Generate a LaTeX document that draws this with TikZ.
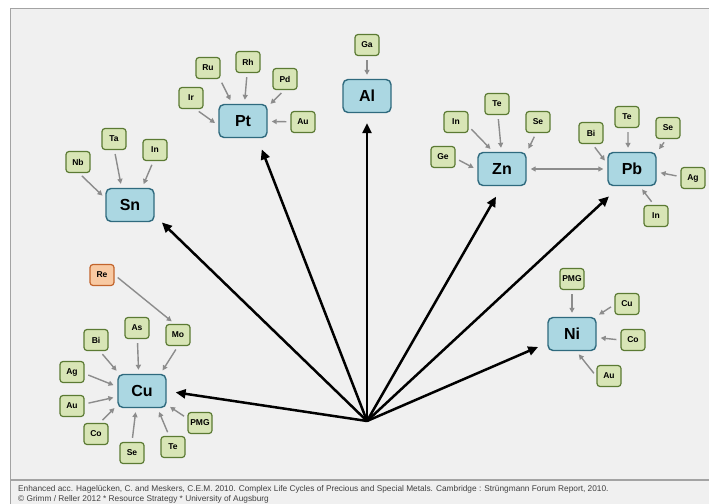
\documentclass[tikz,border=0pt]{standalone}
\usepackage{fontspec}
\setmainfont{Liberation Sans}
\usetikzlibrary{arrows.meta}
\definecolor{metalfill}{HTML}{ABD7E2}
\definecolor{metaldraw}{HTML}{2F6A7E}
\definecolor{elemfill}{HTML}{D8E5B6}
\definecolor{elemdraw}{HTML}{5B7A33}
\definecolor{rarefill}{HTML}{F8C9A2}
\definecolor{raredraw}{HTML}{C2642C}
\definecolor{feedgray}{HTML}{8C8C8C}
\definecolor{bggray}{HTML}{F0F0F0}
\definecolor{framegray}{HTML}{A3A3A3}

\begin{document}
\begin{tikzpicture}[x=1pt,y=-1pt,
    mnode/.style={draw=metaldraw, fill=metalfill, rounded corners=5pt, line width=1.4pt, minimum width=48pt, minimum height=33pt, inner sep=2pt, font=\fontsize{16}{16}\selectfont\bfseries},
    enode/.style={draw=elemdraw, fill=elemfill, rounded corners=3pt, line width=1.2pt, minimum width=24pt, minimum height=21pt, inner sep=1.5pt, font=\fontsize{8.5}{9}\selectfont\bfseries},
    rnode/.style={enode, draw=raredraw, fill=rarefill},
    feed/.style={draw=feedgray, line width=1.4pt, -{Triangle[length=5pt,width=5pt]}, shorten >=4pt, shorten <=4pt},
    feedboth/.style={feed, {Triangle[length=5pt,width=5pt]}-{Triangle[length=5pt,width=5pt]}},
    carrier/.style={draw=black, line width=2.5pt, -{Triangle[length=10pt,width=9pt]}},
    footer/.style={anchor=west, inner sep=0pt, text=black!75, font=\fontsize{8.3}{9}\selectfont}]
    \useasboundingbox (0,0) rectangle (709,503);
    \fill[white] (0,0) rectangle (709,503);
    \draw[framegray, fill=bggray, line width=1.5pt] (10.5,8.5) rectangle (715,510);
    \draw[framegray, line width=1.5pt] (10.5,480) -- (709,480);

    \coordinate (hub) at (367,421);
    \node[mnode] (sn) at (130,205) {Sn};
    \node[mnode] (pt) at (243,121) {Pt};
    \node[mnode] (al) at (367,96) {Al};
    \node[mnode] (zn) at (502,169) {Zn};
    \node[mnode] (pb) at (632,169) {Pb};
    \node[mnode] (ni) at (572,334) {Ni};
    \node[mnode] (cu) at (142,391) {Cu};

    \node[enode] (ptir) at (191,98) {Ir};
    \node[enode] (ptru) at (208,68) {Ru};
    \node[enode] (ptrh) at (248,62) {Rh};
    \node[enode] (ptpd) at (285,79) {Pd};
    \node[enode] (ptau) at (303,122) {Au};
    \node[enode] (snnb) at (78,162) {Nb};
    \node[enode] (snta) at (114,139) {Ta};
    \node[enode] (snin) at (155,150) {In};
    \node[enode] (alga) at (367,45) {Ga};
    \node[enode] (znin) at (456,122) {In};
    \node[enode] (znte) at (497,104) {Te};
    \node[enode] (znse) at (538,122) {Se};
    \node[enode] (znge) at (443,157) {Ge};
    \node[enode] (pbbi) at (591,133) {Bi};
    \node[enode] (pbte) at (627,117) {Te};
    \node[enode] (pbse) at (668,128) {Se};
    \node[enode] (pbag) at (693,178) {Ag};
    \node[enode] (pbin) at (656,216) {In};
    \node[enode] (nipmg) at (572,279) {PMG};
    \node[enode] (nicu) at (627,304) {Cu};
    \node[enode] (nico) at (633,340) {Co};
    \node[enode] (niau) at (609,376) {Au};
    \node[rnode] (cure) at (102,275) {Re};
    \node[enode] (cuas) at (137,328) {As};
    \node[enode] (cumo) at (178,335) {Mo};
    \node[enode] (cubi) at (96,340) {Bi};
    \node[enode] (cuag) at (72,372) {Ag};
    \node[enode] (cuau) at (72,406) {Au};
    \node[enode] (cuco) at (96,434) {Co};
    \node[enode] (cuse) at (132,453) {Se};
    \node[enode] (cute) at (173,447) {Te};
    \node[enode] (cupmg) at (200,423) {PMG};

    \path (ptir.292) edge[feed] (pt.190);
    \path (ptru.317) edge[feed] (pt.122);
    \path (ptrh) edge[feed] (pt.85);
    \path (ptpd.266) edge[feed] (pt.30);
    \path (ptau) edge[feed] (pt);
    \path (snnb.275) edge[feed] (sn.165);
    \path (snta.272) edge[feed] (sn.116);
    \path (snin.262) edge[feed] (sn.55);
    \path (alga) edge[feed] (al);
    \path (znin.341) edge[feed] (zn.117);
    \path (znte.275) edge[feed] (zn.92);
    \path (znse.260) edge[feed] (zn.34);
    \path (znge.354) edge[feed] (zn.182);
    \path (zn) edge[feedboth] (pb);
    \path (pbbi.277) edge[feed] (pb.168);
    \path (pbte.275) edge[feed] (pb.103);
    \path (pbse.262) edge[feed] (pb.34);
    \path (pbag.174) edge[feed] (pb.353);
    \path (pbin.100) edge[feed] (pb.294);
    \path (nipmg) edge[feed] (ni);
    \path (nicu.183) edge[feed] (ni.36);
    \path (nico.west) edge[feed] (ni.352);
    \path (niau.182) edge[feed] (ni.284);
    \path (cure.east) edge[feed] (cumo.106);
    \path (cuas) edge[feed] (cu.101);
    \path (cumo.270) edge[feed] (cu.43);
    \path (cubi.289) edge[feed] (cu.143);
    \path (cuag.353) edge[feed] (cu.170);
    \path (cuau.9) edge[feed] (cu.193);
    \path (cuco.72) edge[feed] (cu.210);
    \path (cuse.90) edge[feed] (cu.251);
    \path (cute.109) edge[feed] (cu.312);
    \path (cupmg.160) edge[feed] (cu.331);

    \path (hub) edge[carrier, shorten >=10pt] (sn.337);
    \path (hub) edge[carrier, shorten >=12pt] (pt.310);
    \path (hub) edge[carrier, shorten >=10pt] (al.south);
    \path (hub) edge[carrier, shorten >=12pt] (zn.south);
    \path (hub) edge[carrier, shorten >=15pt] (pb.235);
    \path (hub) edge[carrier, shorten >=10pt] (ni.200);
    \path (hub) edge[carrier, shorten >=9pt] (cu.east);

    \node[footer] (source) at (18,489) {Enhanced acc. Hagelücken, C. and Meskers, C.E.M. 2010. Complex Life Cycles of Precious and Special Metals. Cambridge : Strüngmann Forum Report, 2010.};
    \node[footer] (credit) at (18,499.5) {© Grimm / Reller 2012 * Resource Strategy * University of Augsburg};
\end{tikzpicture}
\end{document}
